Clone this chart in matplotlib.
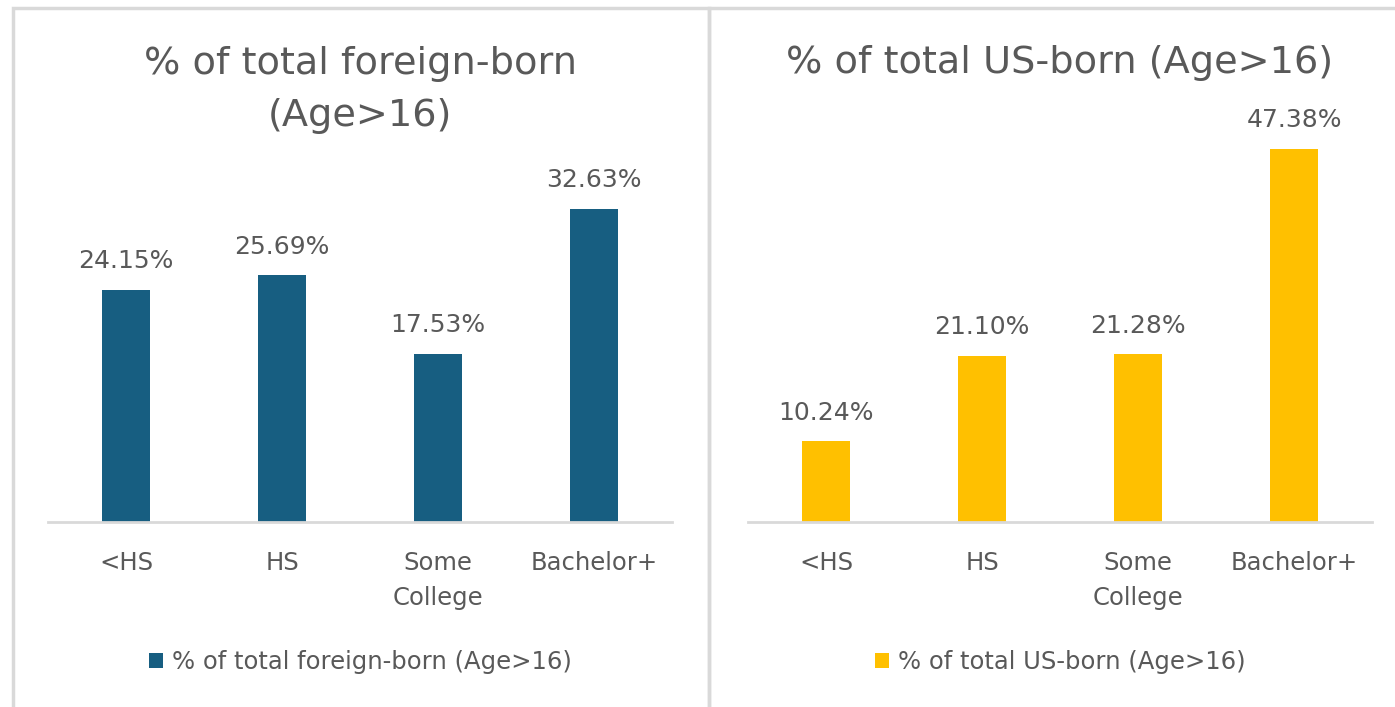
import matplotlib.pyplot as plt
from matplotlib.patches import Rectangle

plt.rcParams['font.family'] = ['DejaVu Sans']

# data
categories = ['<HS', 'HS', 'Some\nCollege', 'Bachelor+']
foreign_born = [24.15, 25.69, 17.53, 32.63]
us_born = [10.24, 21.10, 21.28, 47.38]

foreign_title = '% of total foreign-born\n(Age>16)'
us_title = '% of total US-born (Age>16)'
foreign_legend = '% of total foreign-born (Age>16)'
us_legend = '% of total US-born (Age>16)'

blue = '#175E81'
gold = '#FFC000'
grey_txt = '#595959'
grey_line = '#D9D9D9'

W, H = 1395, 707
fig = plt.figure(figsize=(W / 100, H / 100), dpi=100)

def px(x0, y_top, w, h):
    # pixel box (from top-left) -> figure fraction
    return [x0 / W, 1 - (y_top + h) / H, w / W, h / H]

# panel borders
for x0, x1 in [(13, 709), (709, 1400)]:
    fig.patches.append(Rectangle((x0 / W, -0.05), (x1 - x0) / W, 1.05 - 8 / H,
                                 transform=fig.transFigure, fill=False,
                                 edgecolor=grey_line, linewidth=2.5))

def panel(rect, vals, ymax, color, title, title_y, leg):
    ax = fig.add_axes(rect)
    x = range(len(vals))
    bars = ax.bar(x, vals, width=0.31, color=color, label=leg)
    ax.set_xlim(-0.5, len(vals) - 0.5)
    ax.set_ylim(0, ymax)
    for s in ['top', 'right', 'left']:
        ax.spines[s].set_visible(False)
    ax.spines['bottom'].set_color(grey_line)
    ax.spines['bottom'].set_linewidth(2)
    ax.set_yticks([])
    ax.set_xticks(list(x))
    ax.set_xticklabels(categories, fontsize=17.5, color=grey_txt, linespacing=1.55)
    ax.tick_params(axis='x', length=0, pad=21)
    for b, v in zip(bars, vals):
        ax.annotate(f'{v:.2f}%', (b.get_x() + b.get_width() / 2, v),
                    xytext=(0, 12), textcoords='offset points',
                    ha='center', va='bottom', fontsize=18, color=grey_txt)
    cx = rect[0] + rect[2] / 2
    fig.text(cx, title_y, title, ha='center', va='center', fontsize=27.5,
             color=grey_txt, linespacing=1.55)
    ax.legend(loc='center', bbox_to_anchor=(cx, 1 - 662 / H),
              bbox_transform=fig.transFigure, frameon=False, fontsize=17.5,
              labelcolor=grey_txt, handlelength=0.6, handleheight=0.6,
              handletextpad=0.35)
    return ax

panel(px(48, 186, 624, 336), foreign_born, 35, blue, foreign_title, 1 - 90 / H, foreign_legend)
panel(px(748, 128, 624, 394), us_born, 50, gold, us_title, 1 - 63 / H, us_legend)

fig.savefig('out.png', dpi=100, facecolor='white')
